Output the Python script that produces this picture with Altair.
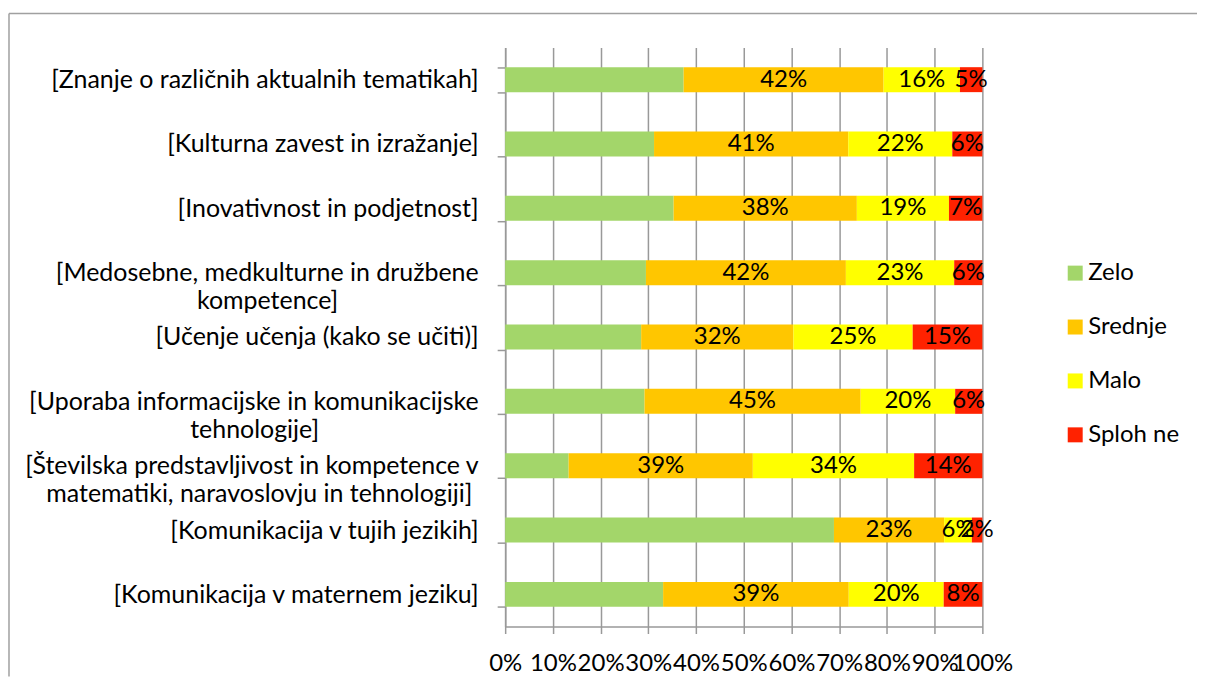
import altair as alt
import pandas as pd

categories = [
    "[Znanje o različnih aktualnih tematikah]",
    "[Kulturna zavest in izražanje]",
    "[Inovativnost in podjetnost]",
    "[Medosebne, medkulturne in družbene\nkompetence]",
    "[Učenje učenja (kako se učiti)]",
    "[Uporaba informacijske in komunikacijske\ntehnologije]",
    "[Številska predstavljivost in kompetence v\nmatematiki, naravoslovju in tehnologiji]",
    "[Komunikacija v tujih jezikih]",
    "[Komunikacija v maternem jeziku]",
]
series = ["Zelo", "Srednje", "Malo", "Sploh ne"]
zelo = [37.4, 31.2, 35.3, 29.5, 28.5, 29.2, 13.3, 68.9, 33.1]
srednje = [41.9, 40.7, 38.4, 41.9, 31.9, 45.3, 38.6, 23.1, 38.9]
malo = [16.0, 21.8, 19.3, 22.7, 25.0, 19.8, 33.8, 5.8, 19.9]
sploh_ne = [4.7, 6.3, 7.0, 5.9, 14.6, 5.7, 14.3, 2.2, 8.1]
colors = ["#A3D66A", "#FFC600", "#FFFF00", "#FF2200"]
x_ticks = [0, 0.1, 0.2, 0.3, 0.4, 0.5, 0.6, 0.7, 0.8, 0.9, 1.0]

rows = []
for s_i, (name, vals) in enumerate(zip(series, [zelo, srednje, malo, sploh_ne])):
    for c, v in zip(categories, vals):
        rows.append({"cat": c, "series": name, "ord": s_i, "value": v})
df = pd.DataFrame(rows)

FONT = "Lato"
FS = 24
GRAY = "#999999"

# two-line labels: the shorter line is padded with no-break spaces (closed by a
# zero-width space so they are not trimmed) so the lines look centred
NBSP = "\u00a0"
ZWSP = "\u200b"
line_pad = {categories[3]: 22, categories[5]: 25, categories[6]: 1}
expr = "split(datum.label, '\\n')"
for cat, n in line_pad.items():
    l1, l2 = cat.split("\n")
    expr = ("indexof(datum.label, '" + l2 + "') >= 0 ? ['" + l1 + "', '" + l2 +
            NBSP * n + ZWSP + "'] : " + expr)

base = alt.Chart(df).transform_stack(
    stack="value", groupby=["cat"], sort=[alt.SortField("ord")],
    as_=["v0", "v1"], offset="normalize"
).transform_calculate(mid="(datum.v0 + datum.v1) / 2")

yenc = alt.Y(
    "cat:N", sort=categories, title=None,
    scale=alt.Scale(paddingInner=0.61, paddingOuter=0.305),
    axis=alt.Axis(
        labelExpr=expr,
        labelFont=FONT, labelFontSize=25, labelColor="#000000",
        labelLineHeight=28, labelPadding=19, labelLimit=600,
        tickBand="extent", tickSize=8, tickColor=GRAY, tickWidth=1.5,
        domainColor=GRAY, domainWidth=1.5, grid=False,
    ),
)

bars = base.mark_bar(size=25).encode(
    x=alt.X(
        "v0:Q", title=None,
        scale=alt.Scale(domain=[0, 1], nice=False),
        axis=alt.Axis(
            values=x_ticks, format=".0%", labelOverlap=False, labelFlush=False,
            labelFont=FONT, labelFontSize=FS, labelColor="#000000", labelPadding=18,
            tickSize=7, tickColor=GRAY, tickWidth=1.5,
            domainColor=GRAY, domainWidth=1.5,
            grid=True, gridColor=GRAY, gridWidth=1.5,
        ),
    ),
    x2="v1:Q",
    y=yenc,
    color=alt.Color(
        "series:N", scale=alt.Scale(domain=series, range=colors), title=None,
        legend=alt.Legend(
            orient="none", legendX=559, legendY=214, symbolType="square",
            symbolSize=225, symbolStrokeWidth=0, labelFont=FONT, labelFontSize=FS,
            labelColor="#000000", labelOffset=1, rowPadding=30, padding=0,
        ),
    ),
    order=alt.Order("ord:Q"),
)

labels = base.transform_filter("datum.series != 'Zelo'").mark_text(
    font=FONT, fontSize=FS, color="#000000", align="center", baseline="middle"
).encode(
    x=alt.X("mid:Q"),
    y=alt.Y("cat:N", sort=categories),
    text=alt.Text("label:N"),
).transform_calculate(label="round(datum.value) + '%'")

frame_df = pd.DataFrame({"k": [0]})
top_line = alt.Chart(frame_df).mark_rule(color="#A0A0A0", strokeWidth=1.5).encode(
    x=alt.value(-497), x2=alt.value(693), y=alt.value(-34)
)
left_line = alt.Chart(frame_df).mark_rule(color="#A0A0A0", strokeWidth=1.5).encode(
    x=alt.value(-497), y=alt.value(-34), y2=alt.value(630)
)

chart = alt.layer(top_line, left_line, bars, labels).properties(
    width=478, height=580,
    padding={"left": 0, "top": 4, "right": 0, "bottom": 0},
).configure_view(stroke=None)

chart.save("out.html", embed_options={"renderer": "svg", "actions": False})
